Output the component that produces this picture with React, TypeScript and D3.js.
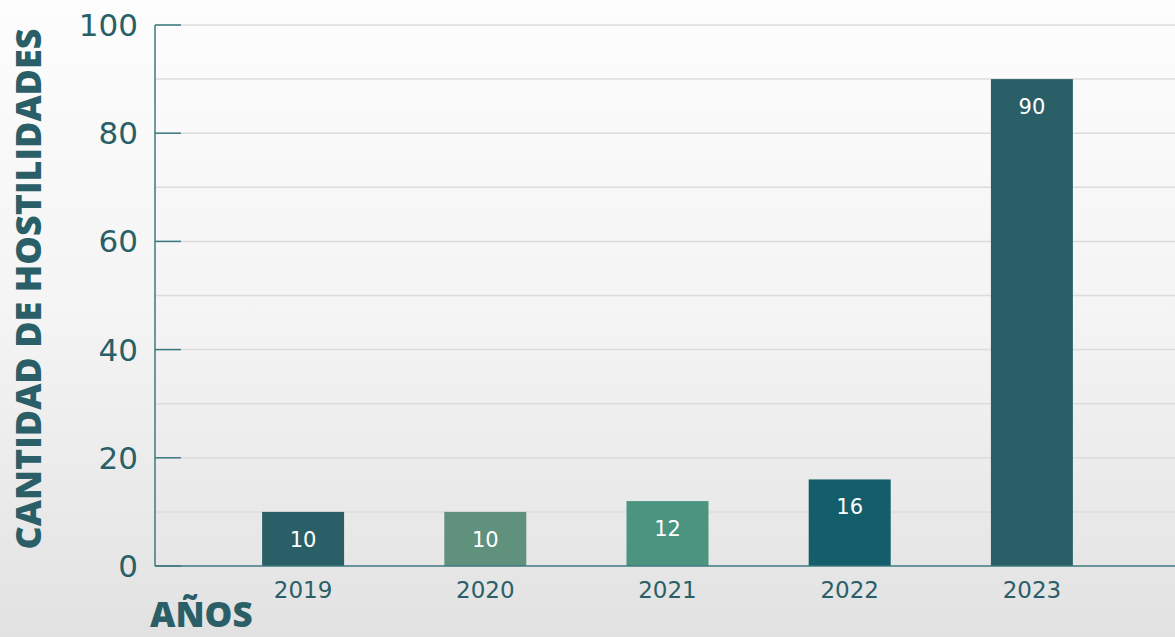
import React from "react";
import * as d3 from "d3";

const years = ["2019", "2020", "2021", "2022", "2023"];
const values = [10, 10, 12, 16, 90];
const barColors = ["#2a5f68", "#5f917c", "#4b9480", "#135e6a", "#2a5f68"];
const majorTicks = [0, 20, 40, 60, 80, 100];
const gridValues = [10, 20, 30, 40, 50, 60, 70, 80, 90, 100];
const yTitle = "CANTIDAD DE HOSTILIDADES";
const xTitle = "AÑOS";

const W = 1175;
const H = 637;
const TEXT = "#2a5f68";

export default function App() {
  const y = d3.scaleLinear().domain([0, 100]).range([566, 25]);
  const x = d3
    .scaleBand<string>()
    .domain(years)
    .range([212, 1123])
    .paddingInner(0.55)
    .paddingOuter(0.275);
  const axisX = 155;

  return (
    <svg
      width={W}
      height={H}
      style={{ position: "absolute", left: 0, top: 0, display: "block" }}
    >
      <defs>
        <linearGradient id="bg" x1="0" y1="0" x2="0" y2="1">
          <stop offset="0" stopColor="#fdfdfd" />
          <stop offset="0.5" stopColor="#f4f4f4" />
          <stop offset="1" stopColor="#e2e2e2" />
        </linearGradient>
      </defs>
      <rect x={0} y={0} width={W} height={H} fill="url(#bg)" />
      {gridValues.map((v) => (
        <line
          key={"g" + v}
          x1={axisX}
          x2={W}
          y1={y(v)}
          y2={y(v)}
          stroke="#dcdcdc"
          strokeWidth={1.5}
        />
      ))}
      {years.map((yr, i) => (
        <rect
          key={"b" + yr}
          x={x(yr)}
          y={y(values[i])}
          width={x.bandwidth()}
          height={y(0) - y(values[i])}
          fill={barColors[i]}
        />
      ))}
      {years.map((yr, i) => (
        <text
          key={"v" + yr}
          x={(x(yr) as number) + x.bandwidth() / 2}
          y={y(values[i]) + 28}
          textAnchor="middle"
          dominantBaseline="central"
          fill="#ffffff"
          fontFamily="'DejaVu Sans', sans-serif"
          fontSize={21}
        >
          {values[i]}
        </text>
      ))}
      <line x1={axisX} x2={axisX} y1={y(100)} y2={y(0)} stroke="#3d7a80" strokeWidth={1.5} />
      <line x1={axisX} x2={W} y1={y(0)} y2={y(0)} stroke="#3d7a80" strokeWidth={1.5} />
      {majorTicks.map((v) => (
        <g key={"t" + v}>
          <line x1={axisX} x2={axisX + 26} y1={y(v)} y2={y(v)} stroke="#3d7a80" strokeWidth={1.5} />
          <text
            x={138}
            y={y(v)}
            textAnchor="end"
            dominantBaseline="central"
            fill={TEXT}
            fontFamily="'DejaVu Sans', sans-serif"
            fontSize={31}
          >
            {v}
          </text>
        </g>
      ))}
      {years.map((yr) => (
        <text
          key={"x" + yr}
          x={(x(yr) as number) + x.bandwidth() / 2}
          y={598}
          textAnchor="middle"
          fill={TEXT}
          fontFamily="'DejaVu Sans', sans-serif"
          fontSize={23}
        >
          {yr}
        </text>
      ))}
      <text
        transform={`translate(41, 289) rotate(-90)`}
        textAnchor="middle"
        fill={TEXT}
        fontFamily="'Open Sans', sans-serif"
        fontWeight={800}
        fontSize={36}
      >
        {yTitle}
      </text>
      <text
        x={150}
        y={627}
        fill={TEXT}
        fontFamily="'Open Sans', sans-serif"
        fontWeight={800}
        fontSize={35}
      >
        {xTitle}
      </text>
    </svg>
  );
}
